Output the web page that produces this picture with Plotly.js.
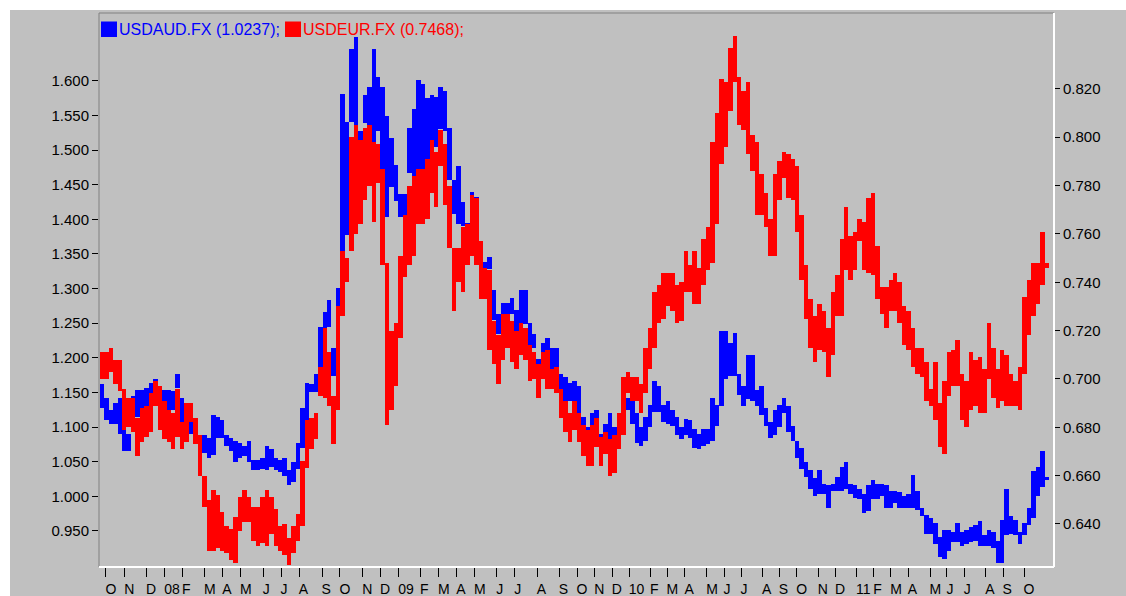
<!DOCTYPE html>
<html>
<head>
<meta charset="utf-8">
<script src="https://cdn.plot.ly/plotly-3.0.1.min.js"></script>
<style>html,body{margin:0;padding:0;background:#fff;}#chart{width:1126px;height:596px;}</style>
</head>
<body>
<div id="chart"></div>
<script>
// Weekly high/low ranges (Sep 2007 .. Oct 2011)
const AUD_HIGH = [1.162,1.142,1.125,1.135,1.142,1.100,1.090,1.145,1.154,1.154,1.157,1.164,1.169,1.150,1.154,1.154,1.152,1.177,1.142,1.125,
1.115,1.110,1.085,1.088,1.085,1.117,1.115,1.110,1.088,1.085,1.080,1.077,1.073,1.080,1.052,1.052,1.055,1.073,1.068,1.055,
1.052,1.055,1.038,1.050,1.077,1.127,1.164,1.162,1.177,1.244,1.266,1.284,1.214,1.301,1.581,1.541,1.646,1.663,1.527,1.579,
1.591,1.646,1.606,1.591,1.549,1.517,1.479,1.437,1.437,1.532,1.559,1.601,1.595,1.575,1.579,1.576,1.591,1.586,1.532,1.457,
1.477,1.425,1.395,1.440,1.432,1.365,1.338,1.346,1.298,1.264,1.279,1.279,1.286,1.269,1.298,1.298,1.251,1.234,1.199,1.222,
1.229,1.214,1.214,1.177,1.172,1.164,1.167,1.159,1.115,1.100,1.120,1.125,1.090,1.105,1.120,1.100,1.100,1.102,1.142,1.137,
1.120,1.100,1.115,1.132,1.167,1.159,1.132,1.137,1.125,1.115,1.100,1.112,1.110,1.097,1.090,1.097,1.097,1.142,1.132,1.239,
1.239,1.222,1.236,1.177,1.159,1.204,1.204,1.154,1.159,1.127,1.107,1.125,1.132,1.142,1.130,1.102,1.080,1.070,1.050,1.038,
1.026,1.038,1.018,1.016,1.018,1.028,1.043,1.050,1.018,1.016,1.011,1.003,1.016,1.023,1.018,1.018,1.016,1.008,1.008,1.006,
1.001,1.003,1.031,1.008,0.983,0.973,0.969,0.961,0.941,0.951,0.951,0.949,0.961,0.949,0.951,0.956,0.959,0.964,0.944,0.951,
0.949,0.936,0.966,1.011,0.971,0.966,0.949,0.961,0.983,1.036,1.043,1.065,1.028];
const AUD_LOW = [1.127,1.110,1.105,1.105,1.090,1.065,1.065,1.125,1.115,1.125,1.130,1.140,1.154,1.130,1.117,1.115,1.125,1.157,1.107,1.100,
1.090,1.085,1.065,1.063,1.055,1.060,1.085,1.085,1.073,1.065,1.050,1.055,1.058,1.050,1.038,1.038,1.040,1.038,1.043,1.038,
1.035,1.030,1.016,1.021,1.040,1.070,1.110,1.150,1.150,1.179,1.239,1.244,1.174,1.274,1.353,1.378,1.541,1.527,1.480,1.539,
1.527,1.512,1.527,1.472,1.403,1.447,1.427,1.403,1.378,1.467,1.462,1.462,1.470,1.475,1.500,1.505,1.530,1.527,1.457,1.408,
1.393,1.390,1.365,1.410,1.400,1.335,1.318,1.328,1.254,1.234,1.259,1.259,1.264,1.234,1.249,1.249,1.219,1.214,1.185,1.207,
1.184,1.184,1.184,1.155,1.137,1.137,1.137,1.120,1.095,1.083,1.100,1.105,1.075,1.083,1.083,1.083,1.080,1.090,1.125,1.105,
1.077,1.073,1.080,1.100,1.122,1.122,1.107,1.105,1.102,1.088,1.083,1.088,1.085,1.070,1.068,1.073,1.075,1.080,1.102,1.130,
1.169,1.174,1.174,1.147,1.130,1.140,1.137,1.130,1.117,1.102,1.085,1.088,1.100,1.120,1.093,1.080,1.055,1.040,1.028,1.011,
1.001,1.003,1.003,0.983,1.008,1.008,1.008,1.011,1.003,0.998,0.996,0.976,0.979,0.996,0.996,1.001,0.983,0.983,0.991,0.983,
0.983,0.983,0.983,0.981,0.971,0.946,0.946,0.931,0.912,0.909,0.921,0.934,0.934,0.929,0.931,0.934,0.936,0.929,0.929,0.929,
0.926,0.904,0.904,0.944,0.946,0.944,0.931,0.944,0.959,0.969,1.001,1.013,1.023];
const EUR_HIGH = [0.711,0.711,0.713,0.708,0.708,0.696,0.692,0.692,0.684,0.688,0.689,0.694,0.699,0.697,0.691,0.687,0.686,0.696,0.682,0.690,
0.690,0.684,0.677,0.660,0.650,0.654,0.652,0.645,0.639,0.638,0.643,0.651,0.654,0.651,0.647,0.647,0.651,0.654,0.651,0.646,
0.639,0.640,0.634,0.639,0.644,0.666,0.683,0.684,0.686,0.705,0.721,0.711,0.693,0.730,0.753,0.750,0.800,0.805,0.799,0.804,
0.805,0.798,0.797,0.787,0.748,0.720,0.723,0.751,0.768,0.780,0.784,0.787,0.787,0.791,0.799,0.794,0.803,0.797,0.780,0.754,
0.754,0.763,0.764,0.776,0.775,0.757,0.746,0.745,0.724,0.718,0.727,0.727,0.724,0.720,0.723,0.721,0.714,0.711,0.706,0.711,
0.712,0.704,0.705,0.696,0.691,0.686,0.691,0.686,0.681,0.679,0.681,0.684,0.676,0.678,0.675,0.677,0.686,0.701,0.703,0.701,
0.701,0.698,0.713,0.721,0.736,0.739,0.744,0.744,0.744,0.739,0.740,0.753,0.747,0.753,0.746,0.758,0.763,0.798,0.810,0.824,
0.823,0.837,0.842,0.825,0.819,0.823,0.801,0.798,0.785,0.777,0.766,0.785,0.790,0.794,0.793,0.791,0.788,0.768,0.747,0.733,
0.726,0.731,0.728,0.721,0.736,0.743,0.758,0.771,0.759,0.761,0.766,0.765,0.775,0.777,0.755,0.738,0.738,0.741,0.744,0.740,
0.730,0.728,0.721,0.713,0.713,0.707,0.696,0.707,0.690,0.699,0.711,0.712,0.716,0.702,0.699,0.711,0.708,0.709,0.704,0.723,
0.713,0.704,0.712,0.710,0.702,0.699,0.705,0.734,0.741,0.748,0.748,0.761,0.748];
const EUR_LOW = [0.700,0.700,0.703,0.698,0.695,0.679,0.680,0.678,0.668,0.674,0.676,0.678,0.689,0.679,0.675,0.674,0.671,0.676,0.671,0.674,
0.682,0.673,0.660,0.647,0.629,0.629,0.630,0.629,0.628,0.625,0.624,0.637,0.641,0.641,0.633,0.631,0.632,0.631,0.636,0.631,
0.629,0.627,0.623,0.628,0.633,0.639,0.663,0.671,0.675,0.693,0.692,0.689,0.673,0.687,0.726,0.740,0.753,0.760,0.764,0.774,
0.780,0.765,0.781,0.747,0.681,0.687,0.697,0.717,0.742,0.747,0.751,0.764,0.764,0.766,0.777,0.771,0.788,0.772,0.754,0.728,
0.740,0.736,0.747,0.751,0.747,0.733,0.733,0.712,0.706,0.698,0.708,0.713,0.707,0.704,0.710,0.708,0.699,0.700,0.692,0.700,
0.696,0.696,0.694,0.684,0.678,0.674,0.679,0.674,0.668,0.664,0.664,0.672,0.664,0.669,0.660,0.661,0.671,0.677,0.694,0.691,
0.691,0.686,0.694,0.704,0.713,0.723,0.725,0.730,0.728,0.723,0.724,0.736,0.736,0.731,0.731,0.739,0.745,0.748,0.764,0.789,
0.796,0.811,0.823,0.805,0.803,0.793,0.786,0.768,0.768,0.763,0.751,0.751,0.774,0.783,0.775,0.774,0.761,0.741,0.725,0.713,
0.707,0.712,0.711,0.701,0.710,0.726,0.726,0.745,0.741,0.745,0.757,0.745,0.744,0.743,0.733,0.727,0.721,0.728,0.728,0.723,
0.714,0.712,0.705,0.702,0.701,0.691,0.689,0.683,0.672,0.669,0.693,0.697,0.697,0.683,0.680,0.687,0.689,0.686,0.686,0.700,
0.692,0.688,0.691,0.689,0.689,0.689,0.687,0.702,0.718,0.726,0.731,0.739,0.746];

// Month ticks (position in weeks from the first bar) and their labels
const MONTH_TICKS = [0.9,5.1,10.0,14.1,18.1,23.0,27.1,31.1,36.2,40.2,44.3,49.4,53.4,58.5,62.5,66.6,71.5,75.5,79.6,83.6,
88.6,92.6,97.7,102.6,106.6,110.6,114.5,118.3,123.1,126.8,130.8,135.7,139.6,143.4,148.2,152.0,155.9,160.7,164.6,169.3,
173.2,177.0,180.9,185.8,189.6,193.5,198.3,202.2,206.9];
const MONTH_LABELS = ["O","N","D","08","F","M","A","M","J","J","A","S","O","N","D","09","F","M","A","M",
"J","J","A","S","O","N","D","10","F","M","A","M","J","J","A","S","O","N","D","11",
"F","M","A","M","J","J","A","S","O"];
const LEFT_TICKS = [0.95,1.00,1.05,1.10,1.15,1.20,1.25,1.30,1.35,1.40,1.45,1.50,1.55,1.60];
const RIGHT_TICKS = [0.64,0.66,0.68,0.70,0.72,0.74,0.76,0.78,0.80,0.82];
const SERIES_NAMES = ["USDAUD.FX (1.0237);", "USDEUR.FX (0.7468);"];
const SERIES_COLORS = ["#0000FF", "#FF0000"];

const W = 1126, H = 596;
const L = 99, R = 1054, T = 13, B = 567;
const pw = R - L, ph = B - T;
const px = x => (x - L) / pw;
const py = y => (B - y) / ph;

const idx = AUD_HIGH.map((_, i) => i);
const FONT = "Liberation Sans, Arial, sans-serif";

const traces = [
  {type: 'bar', x: idx, base: AUD_LOW, y: AUD_HIGH.map((h, i) => h - AUD_LOW[i]), width: 1,
   marker: {color: SERIES_COLORS[0], line: {width: 0}}, yaxis: 'y', hoverinfo: 'skip'},
  {type: 'bar', x: idx, base: EUR_LOW, y: EUR_HIGH.map((h, i) => h - EUR_LOW[i]), width: 1,
   marker: {color: SERIES_COLORS[1], line: {width: 0}}, yaxis: 'y2', hoverinfo: 'skip'}
];

const layout = {
  width: W, height: H,
  margin: {l: L, r: W - R, t: T, b: H - B, pad: 0},
  paper_bgcolor: '#C0C0C0', plot_bgcolor: '#C0C0C0',
  showlegend: false, barmode: 'overlay', bargap: 0,
  xaxis: {range: [-0.657, 213.62], tickmode: 'array', tickvals: MONTH_TICKS, ticktext: MONTH_LABELS,
          ticks: 'outside', ticklen: 9, tickwidth: 1, tickcolor: '#000', ticklabelposition: 'outside right',
          ticklabelshift: -1, ticklabelstandoff: 9,
          tickangle: 0, automargin: false,
          tickfont: {family: FONT, size: 14, color: '#000'}, showgrid: false, zeroline: false, showline: false, fixedrange: true},
  yaxis: {range: [0.898, 1.698], tickmode: 'array', tickvals: LEFT_TICKS, tickformat: '.3f',
          ticks: 'outside', ticklen: 6, tickwidth: 1, tickcolor: '#000', automargin: false,
          tickfont: {family: FONT, size: 15, color: '#000'}, showgrid: false, zeroline: false, showline: false, fixedrange: true},
  yaxis2: {range: [0.6222, 0.8514], overlaying: 'y', side: 'right', tickmode: 'array', tickvals: RIGHT_TICKS, tickformat: '.3f',
          ticks: 'outside', ticklen: 5, tickwidth: 1, tickcolor: '#000', automargin: false,
          tickfont: {family: FONT, size: 15, color: '#000'}, showgrid: false, zeroline: false, showline: false, fixedrange: true},
  shapes: [
    // white outer margins (top, left)
    {type: 'rect', xref: 'paper', yref: 'paper', x0: px(0), x1: px(W), y0: py(10), y1: py(0), fillcolor: '#fff', line: {width: 0}, layer: 'below'},
    {type: 'rect', xref: 'paper', yref: 'paper', x0: px(0), x1: px(10), y0: py(H), y1: py(0), fillcolor: '#fff', line: {width: 0}, layer: 'below'},
    // sunken frame
    {type: 'line', xref: 'paper', yref: 'paper', x0: 0, x1: 0, y0: 0, y1: 1, line: {color: '#808080', width: 1}},
    {type: 'line', xref: 'paper', yref: 'paper', x0: 0, x1: 1, y0: 1, y1: 1, line: {color: '#808080', width: 1}},
    {type: 'line', xref: 'paper', yref: 'paper', x0: 1, x1: 1, y0: 0, y1: 1, line: {color: '#FFFFFF', width: 2}},
    {type: 'line', xref: 'paper', yref: 'paper', x0: 0, x1: 1, y0: 0, y1: 0, line: {color: '#FFFFFF', width: 2}},
    // legend swatches
    {type: 'rect', xref: 'paper', yref: 'paper', x0: px(101), x1: px(117), y0: py(37), y1: py(21.5), fillcolor: SERIES_COLORS[0], line: {width: 0}},
    {type: 'rect', xref: 'paper', yref: 'paper', x0: px(285), x1: px(301), y0: py(37), y1: py(21.5), fillcolor: SERIES_COLORS[1], line: {width: 0}}
  ],
  annotations: [
    {xref: 'paper', yref: 'paper', x: px(117), y: py(29.5), xanchor: 'left', yanchor: 'middle', showarrow: false,
     text: SERIES_NAMES[0], font: {family: FONT, size: 16, color: SERIES_COLORS[0]}},
    {xref: 'paper', yref: 'paper', x: px(301), y: py(29.5), xanchor: 'left', yanchor: 'middle', showarrow: false,
     text: SERIES_NAMES[1], font: {family: FONT, size: 16, color: SERIES_COLORS[1]}}
  ]
};

Plotly.newPlot('chart', traces, layout, {staticPlot: true, displayModeBar: false});
</script>
</body>
</html>
